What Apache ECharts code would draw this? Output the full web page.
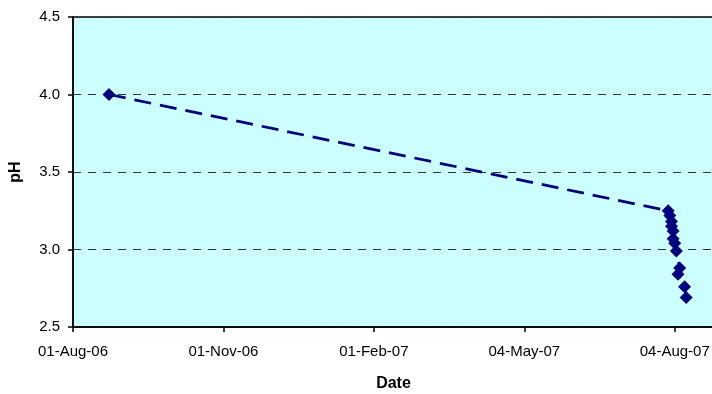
<!DOCTYPE html>
<html>
<head>
<meta charset="utf-8">
<script src="https://cdn.jsdelivr.net/npm/echarts@6/dist/echarts.min.js"></script>
<style>html,body{margin:0;padding:0;background:#fff}#c{width:712px;height:394px}</style>
</head>
<body>
<div id="c"></div>
<script>
// Data
const sampleDates = ['2006-08-23','2007-07-31','2007-08-01','2007-08-02','2007-08-02','2007-08-03','2007-08-03','2007-08-04','2007-08-05','2007-08-07','2007-08-06','2007-08-10','2007-08-11'];
const pHValues = [4.00, 3.25, 3.22, 3.18, 3.15, 3.12, 3.07, 3.04, 2.99, 2.88, 2.84, 2.76, 2.69];
const xTickLabels = ['01-Aug-06','01-Nov-06','01-Feb-07','04-May-07','04-Aug-07'];
const yTickLabels = ['2.5','3.0','3.5','4.0','4.5'];

const origin = Date.UTC(2006, 7, 1);
const DAY = 86400000;
function dayOffset(s) { const p = s.split('-').map(Number); return (Date.UTC(p[0], p[1]-1, p[2]) - origin) / DAY; }
const seriesData = sampleDates.map((d, i) => [dayOffset(d), pHValues[i]]);

const chart = echarts.init(document.getElementById('c'), null, {renderer: 'canvas'});
const font = 'Liberation Sans, Arial, sans-serif';
chart.setOption({
  animation: false,
  backgroundColor: '#ffffff',
  grid: {left: 73, right: -2, top: 17, bottom: 67, show: true, containLabel: false, outerBoundsMode: 'none',
    backgroundColor: '#CCFFFF', borderColor: '#000', borderWidth: 1.5},
  xAxis: {
    type: 'value', min: 0, max: 392, interval: 92,
    name: 'Date', nameLocation: 'middle', nameGap: 49,
    nameTextStyle: {fontFamily: font, fontSize: 16, fontWeight: 'bold', color: '#000'},
    axisLine: {lineStyle: {color: '#000', width: 1.5}},
    axisTick: {show: true, length: 5, lineStyle: {color: '#000', width: 1.5}},
    axisLabel: {showMaxLabel: false, margin: 17, fontFamily: font, fontSize: 15, color: '#000',
      formatter: v => xTickLabels[Math.round(v / 92)] || ''},
    splitLine: {show: false}
  },
  yAxis: {
    type: 'value', min: 2.5, max: 4.5, interval: 0.5,
    name: 'pH', nameLocation: 'middle', nameGap: 49, nameRotate: 90,
    nameTextStyle: {fontFamily: font, fontSize: 16, fontWeight: 'bold', color: '#000'},
    axisLine: {show: true, lineStyle: {color: '#000', width: 1.5}},
    axisTick: {show: true, length: 5, lineStyle: {color: '#000', width: 1.5}},
    axisLabel: {margin: 13, fontFamily: font, fontSize: 15, color: '#000',
      formatter: v => yTickLabels[Math.round((v - 2.5) / 0.5)] || ''},
    splitLine: {show: true, lineStyle: {color: '#333', width: 1, type: [8, 7]}}
  },
  series: [{
    type: 'line', data: seriesData,
    symbol: 'diamond', symbolSize: 13,
    itemStyle: {color: '#000080'},
    lineStyle: {color: '#000080', width: 2.8, type: [17, 9]}
  }]
});
</script>
</body>
</html>
